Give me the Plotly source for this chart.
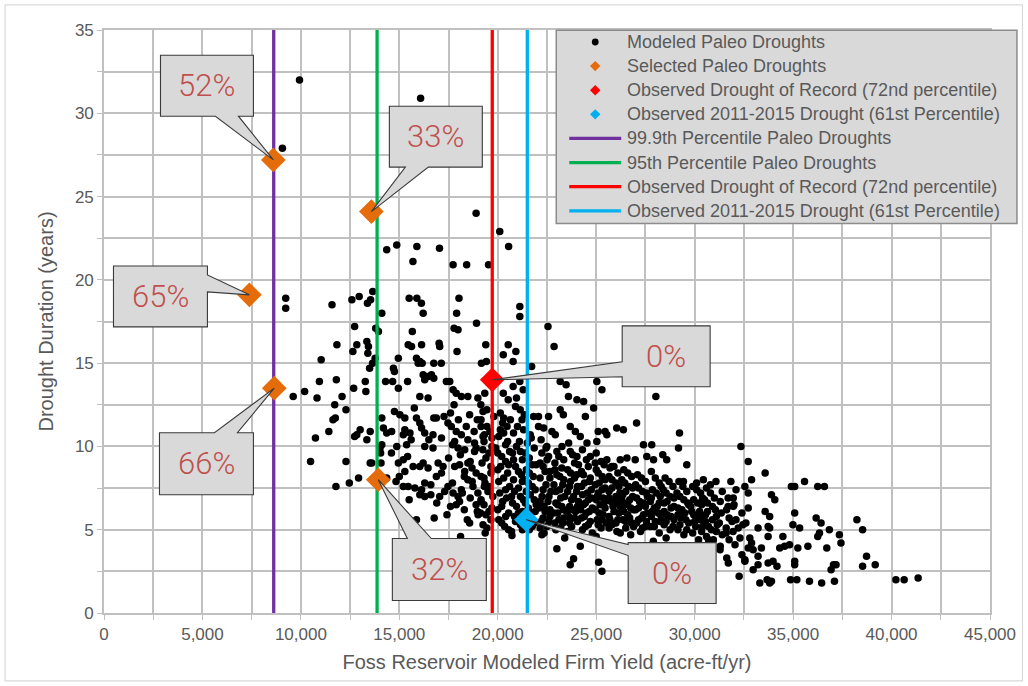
import plotly.graph_objects as go

# ---------------------------------------------------------------------------
# Modeled paleo droughts: (firm yield acre-ft/yr, drought duration years)
# ---------------------------------------------------------------------------
paleo_upper = [
    (9930, 32.0), (16080, 30.9), (9060, 27.9), (18900, 24.0), (20100, 22.9), (14360, 21.8),
    (14870, 22.1), (15890, 22.0), (17040, 21.9), (20550, 22.0), (15690, 21.1), (17730, 20.9),
    (18420, 20.9), (19530, 20.9), (9230, 18.9), (9230, 18.3), (11580, 18.5), (12590, 18.8),
    (12960, 19.0), (13380, 18.6), (13540, 18.8), (13650, 19.3), (14110, 18.0), (15500, 18.9),
    (15890, 18.9), (16120, 18.6), (16210, 18.0), (18030, 18.9), (17910, 18.0), (18920, 17.4),
    (21120, 18.4), (21120, 17.8), (22550, 17.2), (12730, 17.2), (13800, 17.1), (13940, 16.9),
    (15660, 16.9), (17780, 17.1), (17980, 17.0),
]

paleo_middle = [
    (11830, 16.1), (12840, 16.1), (13350, 16.3), (13430, 16.0), (12640, 15.7), (13400, 15.6),
    (15450, 16.1), (15620, 16.0), (16130, 16.1), (17020, 16.2), (17050, 16.0), (17930, 15.7),
    (11030, 15.2), (13770, 15.3), (13640, 15.0), (14950, 15.3), (15870, 15.3), (16040, 15.1),
    (16160, 15.0), (15960, 15.0), (16750, 15.0), (17130, 15.0), (14700, 14.7), (14750, 14.5),
    (13490, 14.7), (19170, 15.0), (19420, 15.1), (16210, 14.3), (16460, 14.2), (16290, 14.0),
    (16630, 14.3), (16750, 14.1), (15420, 13.9), (14300, 13.9), (14660, 13.9), (13270, 13.9),
    (10940, 13.9), (11800, 14.0), (17390, 13.9), (17560, 13.9), (14950, 13.5), (12680, 13.5),
    (13300, 13.3), (10190, 13.3), (9610, 13.0), (10820, 12.9), (12090, 13.0), (16040, 13.0),
    (16460, 12.9), (17730, 13.4), (17890, 13.2), (18150, 13.0), (18480, 13.0), (18990, 12.9),
    (17780, 12.5), (11720, 12.5), (12290, 12.2), (15760, 12.3), (19140, 12.5), (19250, 12.1),
    (19390, 16.1), (20530, 16.1), (20920, 15.7), (20280, 15.5), (20780, 15.1), (21720, 14.8),
    (22860, 16.0), (23170, 13.9), (23470, 13.7), (25030, 13.9), (25290, 13.4), (28030, 13.0),
    (23590, 13.0), (24020, 12.8), (24360, 12.7), (21120, 13.9), (20780, 13.6), (21290, 13.4),
    (20280, 13.2), (20530, 12.8), (20950, 12.9), (19340, 13.2), (24870, 12.3), (23170, 12.2),
]

paleo_central = [
    (18570, 11.9), (17270, 11.8), (16750, 11.7), (16880, 11.7), (11750, 11.7), (11630, 11.6),
    (14110, 11.7), (14750, 12.1), (15030, 11.9), (15280, 11.7), (15870, 11.7), (16040, 11.4),
    (16130, 11.1), (17470, 11.4), (17640, 11.2), (17890, 10.9), (18150, 10.7), (18960, 11.6),
    (19150, 11.2), (19320, 10.7), (14190, 11.1), (14360, 10.8), (14610, 10.9), (13010, 11.0),
    (12840, 10.7), (11420, 10.9), (13520, 10.9), (15280, 11.0), (15540, 10.8), (15200, 10.7),
    (16290, 10.8), (16710, 10.7), (10740, 10.5), (12730, 10.6), (13350, 10.4), (17140, 10.5),
    (17810, 10.3), (18480, 10.4), (18820, 10.2), (14110, 10.1), (14020, 9.9), (14870, 10.0),
    (15370, 10.1), (16290, 10.0), (16710, 9.9), (17980, 9.9), (18320, 9.8), (18820, 9.7),
    (19240, 9.8), (10490, 9.1), (12290, 9.1), (13520, 9.0), (14070, 9.0), (14950, 9.0),
    (15200, 9.2), (15420, 9.4), (15280, 8.5), (16040, 8.8), (16210, 9.0), (16460, 8.7),
    (16970, 9.0), (17220, 8.8), (17140, 8.4), (16880, 8.2), (17810, 8.8), (18060, 8.9),
    (18320, 8.5), (18480, 9.0), (18690, 8.7), (18900, 8.4), (19150, 8.2), (12930, 8.1),
    (12460, 7.8), (11780, 7.6), (14830, 7.9), (14360, 8.1), (15200, 7.6), (15450, 7.6),
    (15790, 7.5), (16130, 7.4), (16290, 7.8), (16040, 7.1), (16290, 7.0), (16600, 7.1),
    (17050, 7.0), (17470, 7.6), (17730, 7.2), (17980, 7.0), (18150, 7.4), (18480, 8.0),
    (18740, 7.6), (18990, 7.2), (19320, 7.6), (19150, 6.8), (17890, 6.5), (18060, 6.7),
    (15870, 5.6), (16770, 5.7), (17420, 5.9), (18450, 5.6), (18570, 5.4), (18960, 6.1),
    (19120, 6.0), (18110, 4.6), (19360, 4.8), (17600, 12.0), (18000, 11.6), (18400, 11.2),
    (18800, 10.9), (17700, 10.1), (18100, 9.5), (18600, 9.1), (18900, 9.9), (17500, 9.3),
    (18300, 8.2), (18700, 7.9), (17700, 7.8), (18200, 7.2), (18600, 6.9), (18900, 6.5),
    (17600, 6.4), (19000, 5.9), (18300, 6.2), (14600, 9.6), (15600, 10.4), (16500, 10.4),
    (15000, 8.2), (15700, 8.8), (16600, 7.7), (17300, 7.3), (16900, 6.6), (15500, 6.8),
    (13600, 9.0), (14050, 9.6),
]

paleo_east = [
    (22070, 11.8), (22580, 11.8), (23330, 11.9), (24450, 11.8), (27050, 11.4), (26040, 11.1),
    (26380, 11.0), (29230, 10.8), (25100, 10.9), (25450, 10.9), (25030, 10.3), (25540, 10.7),
    (23680, 11.2), (23940, 10.9), (24190, 10.6), (24530, 10.2), (22750, 10.9), (22920, 10.7),
    (22330, 11.1), (20130, 12.0), (20300, 11.7), (20640, 11.6), (20470, 11.2), (20130, 11.0),
    (21140, 12.2), (21230, 11.6), (21310, 11.0), (21820, 11.8), (22070, 11.2), (21650, 10.7),
    (27400, 10.1), (27820, 10.1), (29180, 9.9), (28380, 9.5), (29600, 8.9), (29430, 7.9),
    (28580, 9.2), (27570, 9.4), (27910, 9.2), (26980, 9.2), (26220, 9.2), (26560, 9.3),
    (25540, 9.2), (25790, 8.8), (24700, 9.4), (24950, 9.0), (23680, 9.7), (24020, 9.4),
    (23000, 9.7), (23260, 10.0), (22490, 10.0), (22240, 9.6), (22580, 9.4), (19800, 11.8),
    (20250, 11.4), (19450, 12.2), (20900, 12.4), (21350, 11.9), (19700, 10.5),
]

paleo_band = [
    (19150, 11.6), (19600, 10.9), (19300, 10.3), (19550, 9.6), (19200, 9.0), (19650, 8.4),
    (19350, 7.8), (19500, 7.3), (19150, 6.7), (19700, 6.3), (19400, 5.9), (19250, 5.3),
    (20050, 10.6), (20400, 10.1), (20200, 9.4), (20550, 8.9), (20000, 8.6), (20300, 8.1),
    (20600, 7.6), (20100, 7.2), (20450, 6.9), (20200, 6.4), (20550, 6.0), (20050, 5.6),
    (20350, 5.2), (19900, 9.9), (20600, 9.7), (20800, 10.8), (21100, 10.3), (20750, 9.6),
    (21250, 9.2), (20900, 8.8), (21200, 8.3), (20800, 8.0), (21050, 7.5), (20700, 7.0),
    (21300, 6.8), (20950, 6.4), (21250, 6.1), (20850, 5.8), (21150, 5.3), (20700, 4.9),
    (21500, 10.2), (21850, 9.9), (21600, 9.3), (21950, 8.9), (21450, 8.6), (21800, 8.2),
    (21550, 7.8), (21900, 7.4), (21650, 7.1), (21400, 6.6), (21950, 6.5), (21700, 6.0),
    (21500, 5.7), (21850, 5.4), (21600, 5.0), (22200, 10.4), (22500, 9.2), (22300, 8.8),
    (22650, 8.5), (22150, 8.1), (22450, 7.7), (22700, 7.3), (22250, 7.0), (22550, 6.7),
    (22100, 6.3), (22400, 6.1), (22650, 5.8), (22200, 5.5), (22500, 5.2), (22350, 4.8),
    (22900, 9.0), (23250, 8.7), (23000, 8.3), (23350, 8.0), (22850, 7.7), (23150, 7.4),
    (23400, 7.0), (22950, 6.6), (23250, 6.4), (23050, 6.0), (23350, 5.7), (22900, 5.4),
    (23200, 5.1), (23400, 4.5), (23600, 10.2), (23900, 9.0), (23550, 8.6), (24000, 8.3),
    (23700, 7.9), (24050, 7.6), (23550, 7.3), (23850, 7.0), (24100, 6.7), (23650, 6.4),
    (23950, 6.1), (23600, 5.8), (24050, 5.5), (23750, 5.2), (23550, 4.9), (24300, 9.8),
    (24600, 8.8), (24250, 8.5), (24700, 8.1), (24400, 7.8), (24750, 7.4), (24300, 7.1),
    (24600, 6.8), (24350, 6.5), (24800, 6.3), (24500, 6.0), (24250, 5.7), (24700, 5.5),
    (24450, 5.2), (24800, 4.8), (25000, 9.6), (25400, 8.9), (25100, 8.4), (25450, 8.0),
    (24950, 7.7), (25300, 7.4), (25050, 7.0), (25450, 6.7), (25200, 6.5), (24950, 6.2),
    (25350, 5.9), (25050, 5.6), (25500, 5.4), (25250, 5.1), (25000, 4.6), (25700, 8.7),
    (26100, 8.4), (25800, 8.0), (26150, 7.6), (25650, 7.3), (26000, 7.0), (25750, 6.7),
    (26200, 6.4), (25900, 6.1), (25650, 5.8), (26100, 5.6), (25800, 5.3), (26050, 4.9),
    (26400, 8.6), (26800, 8.2), (26450, 7.8), (26850, 7.5), (26350, 7.1), (26700, 6.8),
    (26450, 6.5), (26900, 6.2), (26600, 5.9), (26350, 5.6), (26800, 5.4), (26500, 5.1),
    (26750, 4.7), (27100, 8.3), (27500, 7.9), (27150, 7.5), (27550, 7.2), (27050, 6.9),
    (27400, 6.6), (27150, 6.3), (27600, 6.0), (27300, 5.7), (27050, 5.4), (27500, 5.2),
    (27250, 4.9), (27800, 8.5), (28200, 7.8), (27850, 7.4), (28250, 7.0), (27750, 6.7),
    (28100, 6.4), (27850, 6.1), (28300, 5.8), (28000, 5.5), (27750, 5.2), (28200, 4.8),
    (28500, 8.1), (28900, 7.6), (28550, 7.2), (28950, 6.9), (28450, 6.6), (28800, 6.3),
    (28600, 5.9), (28950, 5.6), (28450, 5.3), (28750, 5.0), (28550, 4.5), (29200, 7.9),
    (29600, 7.3), (29250, 7.0), (29650, 6.6), (29150, 6.3), (29500, 6.0), (29300, 5.7),
    (29700, 5.4), (29150, 5.0), (29450, 4.7), (29900, 7.6), (30300, 7.2), (29950, 6.8),
    (30350, 6.5), (29850, 6.1), (30200, 5.8), (30000, 5.5), (30400, 5.2), (29900, 4.8),
    (30200, 4.4), (30600, 7.5), (31000, 6.9), (30650, 6.6), (31050, 6.2), (30550, 5.9),
    (30900, 5.6), (30700, 5.2), (31100, 4.9), (30600, 4.6), (30900, 4.2), (31300, 6.7),
    (31700, 6.4), (31350, 6.0), (31750, 5.7), (31250, 5.4), (31600, 5.1), (31400, 4.7),
    (31750, 4.4), (31300, 4.0), (32000, 6.5), (32400, 6.0), (32100, 5.6), (32450, 5.3),
    (31950, 4.9), (32300, 4.5), (32050, 4.1), (32400, 3.5), (31400, 7.3), (30800, 7.7),
    (31700, 6.9), (31900, 5.5), (31600, 4.8),
]

paleo_band_dense = [
    (19450, 11.2), (19250, 10.6), (19700, 10.0), (19400, 9.3), (19650, 8.8), (19300, 8.1),
    (19550, 7.6), (19750, 7.0), (19300, 6.5), (19550, 6.1), (19650, 5.6), (19450, 5.1),
    (20300, 10.8), (20500, 10.3), (20000, 9.6), (20400, 9.1), (20150, 8.8), (20500, 8.4),
    (20050, 7.9), (20400, 7.4), (20250, 6.7), (20000, 6.2), (20400, 5.8), (20200, 5.4),
    (20550, 5.0), (21000, 11.2), (20950, 10.0), (21150, 9.7), (20800, 9.2), (21050, 8.5),
    (21250, 7.9), (20850, 7.3), (21150, 7.0), (20750, 6.6), (21050, 6.0), (20900, 5.5),
    (21250, 5.0), (21700, 10.5), (21400, 9.6), (21750, 8.9), (21600, 8.4), (21400, 8.0),
    (21750, 7.6), (21450, 7.3), (21850, 6.8), (21550, 6.3), (21900, 6.1), (21400, 5.4),
    (21750, 5.2), (22450, 9.9), (22150, 9.0), (22400, 8.5), (22650, 8.1), (22300, 7.4),
    (22600, 7.0), (22150, 6.7), (22350, 6.4), (22650, 6.2), (22300, 5.7), (22600, 5.5),
    (22150, 5.1), (23100, 9.4), (23350, 9.2), (22900, 8.6), (23150, 8.2), (23300, 7.7),
    (22950, 7.3), (23200, 6.9), (23050, 6.5), (23350, 6.2), (22850, 6.0), (23100, 5.6),
    (23300, 5.4), (22950, 5.0), (23800, 9.5), (24100, 8.9), (23700, 8.4), (23900, 8.1),
    (23650, 7.6), (24000, 7.3), (23750, 6.8), (24050, 6.4), (23800, 6.2), (23500, 6.1),
    (23900, 5.7), (23650, 5.4), (24500, 9.2), (24350, 8.3), (24650, 7.9), (24250, 7.6),
    (24550, 7.2), (24750, 6.9), (24450, 6.6), (24200, 6.2), (24650, 6.1), (24400, 5.8),
    (24600, 5.3), (24300, 5.0), (25250, 9.1), (25000, 8.6), (25300, 8.2), (25150, 7.8),
    (25450, 7.5), (25100, 7.2), (25350, 6.9), (25000, 6.8), (25450, 6.3), (25150, 6.0),
    (25300, 5.6), (25100, 5.3), (25900, 8.8), (25650, 8.2), (26000, 7.8), (25800, 7.5),
    (26200, 7.2), (25650, 6.9), (26050, 6.6), (25850, 6.4), (26150, 6.0), (25700, 5.6),
    (26000, 5.4), (25650, 5.1), (26600, 8.4), (26300, 8.0), (26650, 7.6), (26500, 7.3),
    (26850, 7.0), (26300, 6.8), (26600, 6.6), (26750, 6.3), (26400, 6.1), (26700, 5.7),
    (26500, 5.5), (26900, 5.2), (27300, 8.1), (27000, 7.7), (27350, 7.3), (27600, 7.0),
    (27200, 6.7), (27500, 6.4), (27000, 6.2), (27400, 5.9), (27150, 5.6), (27550, 5.5),
    (27350, 5.1), (28000, 8.1), (28300, 7.6), (28050, 7.2), (27800, 6.9), (28200, 6.6),
    (27950, 6.3), (28150, 6.0), (27800, 5.8), (28250, 5.5), (27950, 5.2), (28700, 7.9),
    (28400, 7.4), (28750, 7.0), (28600, 6.7), (28950, 6.4), (28450, 6.1), (28800, 5.8),
    (28550, 5.5), (28900, 5.2), (29400, 7.6), (29100, 7.2), (29450, 6.8), (29700, 6.5),
    (29350, 6.2), (29150, 5.9), (29550, 5.6), (29250, 5.3), (29600, 5.0), (30100, 7.4),
    (30400, 6.9), (30150, 6.6), (29800, 6.4), (30250, 6.1), (29950, 5.9), (30300, 5.6),
    (30050, 5.2), (30350, 4.9), (30800, 7.2), (30500, 6.8), (30900, 6.4), (30650, 6.1),
    (31100, 5.8), (30550, 5.5), (30850, 5.0), (31150, 5.3), (30700, 4.4),
]

paleo_tail = [
    (32350, 10.0), (32720, 9.1), (33580, 8.4), (35580, 7.9), (34910, 7.6), (35080, 7.6),
    (36250, 7.6), (36590, 7.6), (32890, 8.0), (32550, 7.6), (32720, 7.2), (31840, 7.9),
    (32100, 7.4), (31960, 6.9), (31080, 7.9), (30440, 8.0), (30100, 7.8), (33900, 7.1),
    (34070, 6.8), (32720, 6.3), (31960, 6.4), (31620, 6.2), (35080, 6.0), (33580, 6.1),
    (33810, 5.8), (36170, 5.7), (36420, 5.4), (38240, 5.6), (38530, 5.0), (34990, 5.3),
    (35330, 5.1), (33730, 5.2), (33810, 5.1), (33220, 5.1), (32600, 5.4), (32210, 5.1),
    (36840, 5.0), (36340, 4.8), (36250, 4.6), (37350, 4.7), (37430, 4.2), (34480, 4.6),
    (33730, 4.6), (32800, 4.5), (32890, 4.2), (32720, 3.9), (32970, 3.8), (33390, 3.9),
    (34320, 3.9), (34570, 4.0), (34820, 4.1), (35240, 3.9), (35750, 4.0), (36710, 3.9),
    (38730, 3.4), (38530, 2.8), (39170, 2.9), (37050, 2.9), (37180, 2.9), (36930, 2.6),
    (35080, 3.1), (35080, 2.9), (34180, 2.8), (33980, 3.1), (33730, 3.0), (33220, 3.4),
    (33220, 2.9), (32970, 2.6), (32550, 3.2), (32550, 3.1), (32260, 2.2), (33310, 1.8),
    (33680, 2.0), (33810, 1.8), (33900, 1.9), (34870, 2.0), (35190, 2.0), (35830, 1.9),
    (36450, 1.8), (37100, 1.9), (40220, 2.0), (40640, 2.0), (41350, 2.1),
]

paleo_low = [
    (23000, 3.85), (23850, 3.25), (23680, 2.9), (24190, 4.0), (25120, 3.05), (25290, 2.5),
    (20720, 4.65), (22240, 4.7), (26220, 4.8), (26560, 3.9), (31290, 3.8), (31630, 3.3),
    (31710, 3.0), (30950, 4.4), (27900, 4.3), (28250, 3.9),
]

# Selected paleo droughts and the two observed droughts
selected_x = [8600, 13580, 7385, 8650, 13930]
selected_y = [27.2, 24.1, 19.1, 13.5, 8.0]
selected_pct = ["52%", "33%", "65%", "66%", "32%"]
record_x, record_y, record_pct = [19720], [14.0], ["0%"]
recent_x, recent_y, recent_pct = [21450], [5.6], ["0%"]

# Percentile reference lines (firm yield, acre-ft/yr)
pct_999 = 8620
pct_95 = 13870
pct_record = 19720
pct_recent = 21500

X_MAX, Y_MAX = 45000, 35

# Plot-area geometry in page pixels
L, R, T, B = 103.5, 990.0, 29.7, 613.5
W, H = R - L, B - T
X_PER_PX = X_MAX / W
Y_PER_PX = Y_MAX / H

GREY_TXT = "#595959"
ORANGE, RED, BLUE = "#e46c0a", "#ff0000", "#00b0f0"
PURPLE, GREEN = "#7030a0", "#00b050"

all_pairs = (paleo_upper + paleo_middle + paleo_central + paleo_east + paleo_band
             + paleo_band_dense + paleo_tail + paleo_low)
px_ = [p[0] for p in all_pairs]
py_ = [p[1] for p in all_pairs]

fig = go.Figure()

fig.add_trace(go.Scatter(x=px_, y=py_, mode="markers", name="Modeled Paleo Droughts",
                         marker=dict(color="black", size=7.5, line=dict(width=0)),
                         showlegend=False, hoverinfo="skip"))

for xv, col, nm in [(pct_999, PURPLE, "99.9th Percentile Paleo Droughts"),
                    (pct_95, GREEN, "95th Percentile Paleo Droughts"),
                    (pct_record, RED, "Observed Drought of Record (72nd percentile)"),
                    (pct_recent, BLUE, "Observed 2011-2015 Drought (61st Percentile)")]:
    fig.add_trace(go.Scatter(x=[xv, xv], y=[0, Y_MAX], mode="lines", name=nm,
                             line=dict(color=col, width=3.3), showlegend=False))

for xs, ys, col, nm in [(selected_x, selected_y, ORANGE, "Selected Paleo Droughts"),
                        (record_x, record_y, RED, "Observed Drought of Record"),
                        (recent_x, recent_y, BLUE, "Observed 2011-2015 Drought")]:
    fig.add_trace(go.Scatter(x=xs, y=ys, mode="markers", name=nm,
                             marker=dict(symbol="diamond", color=col, size=19, line=dict(width=0)),
                             showlegend=False))

# ---------------------------------------------------------------------------
# Callout boxes: (box offsets from tip in px, pointer base offsets, edge)
# ---------------------------------------------------------------------------
callout_geom = [
    ((-112.9, -104.8, -19.9, -43.8), ((-57.9, -43.8), (-34.9, -43.8)), "bottom"),
    ((18.0, -105.5, 111.0, -44.5), ((34.0, -44.5), (57.0, -44.5)), "bottom"),
    ((-136.0, -28.9, -42.0, 32.1), ((-42.0, -19.9), (-42.0, -2.9)), "right"),
    ((-114.9, 44.7, -20.9, 106.7), ((-59.9, 44.7), (-36.9, 44.7)), "top"),
    ((14.1, 58.9, 108.1, 120.9), ((29.1, 58.9), (53.1, 58.9)), "top"),
    ((130.0, -54.0, 218.0, 7.0), ((130.0, -18.0), (130.0, -3.0)), "left"),
    ((101.9, 22.9, 189.9, 83.9), ((101.9, 24.9), (101.9, 35.9)), "left"),
]

tips = list(zip(selected_x + record_x + recent_x,
                selected_y + record_y + recent_y,
                selected_pct + record_pct + recent_pct))


def data_pt(tx, ty, dx, dy):
    return tx + dx * X_PER_PX, ty - dy * Y_PER_PX


def callout_path(tx, ty, box, base, edge):
    x0, y0, x1, y1 = box
    b1, b2 = base
    tl, tr, br, bl = (x0, y0), (x1, y0), (x1, y1), (x0, y1)
    tip = (0.0, 0.0)
    if edge == "bottom":
        seq = [tl, tr, br, b2, tip, b1, bl]
    elif edge == "top":
        seq = [tl, b1, tip, b2, tr, br, bl]
    elif edge == "left":
        seq = [tl, tr, br, bl, b2, tip, b1]
    else:
        seq = [tl, tr, b1, tip, b2, br, bl]
    pts = [data_pt(tx, ty, dx, dy) for dx, dy in seq]
    return "M " + " L ".join(f"{x:.2f},{y:.4f}" for x, y in pts) + " Z"


shapes = []
annotations = []
for (tx, ty, label), (box, base, edge) in zip(tips, callout_geom):
    shapes.append(dict(type="path", xref="x", yref="y", layer="above",
                       path=callout_path(tx, ty, box, base, edge),
                       fillcolor="#d9d9d9", line=dict(color="#3a3a3a", width=1.1)))
    cx, cy = data_pt(tx, ty, (box[0] + box[2]) / 2, (box[1] + box[3]) / 2)
    annotations.append(dict(x=cx, y=cy, xref="x", yref="y", text=label, showarrow=False,
                            xanchor="center", yanchor="middle",
                            font=dict(family="Roboto, sans-serif", weight=300,
                                      size=31, color="#c0504d")))


# ---------------------------------------------------------------------------
# Legend panel drawn in paper coordinates
# ---------------------------------------------------------------------------
def pxx(v):
    return (v - L) / W


def pxy(v):
    return (B - v) / H


legend_items = [
    ("dot", "black", "Modeled Paleo Droughts"),
    ("diamond", ORANGE, "Selected Paleo Droughts"),
    ("diamond", RED, "Observed Drought of Record (72nd percentile)"),
    ("diamond", BLUE, "Observed 2011-2015 Drought (61st Percentile)"),
    ("line", PURPLE, "99.9th Percentile Paleo Droughts"),
    ("line", GREEN, "95th Percentile Paleo Droughts"),
    ("line", RED, "Observed Drought of Record (72nd percentile)"),
    ("line", BLUE, "Observed 2011-2015 Drought (61st Percentile)"),
]

LEG_X0, LEG_X1, LEG_Y0, LEG_Y1 = 556, 1017, 30, 223.5
shapes.append(dict(type="rect", xref="paper", yref="paper", layer="above",
                   x0=pxx(LEG_X0), x1=pxx(LEG_X1), y0=pxy(LEG_Y1), y1=pxy(LEG_Y0),
                   fillcolor="#d9d9d9", line=dict(color="#8c8c8c", width=1.5)))

row0, row_step = 41.7, 24.15
sym_cx, line_x0, line_x1, text_x = 595, 569, 621, 625
for i, (kind, col, txt) in enumerate(legend_items):
    ry = row0 + i * row_step
    if kind == "dot":
        r = 3.4
        shapes.append(dict(type="circle", xref="paper", yref="paper", layer="above",
                           x0=pxx(sym_cx - r), x1=pxx(sym_cx + r),
                           y0=pxy(ry + r), y1=pxy(ry - r),
                           fillcolor=col, line=dict(width=0)))
    elif kind == "diamond":
        h = 5.2
        path = (f"M {pxx(sym_cx)},{pxy(ry - h)} L {pxx(sym_cx + h)},{pxy(ry)} "
                f"L {pxx(sym_cx)},{pxy(ry + h)} L {pxx(sym_cx - h)},{pxy(ry)} Z")
        shapes.append(dict(type="path", xref="paper", yref="paper", layer="above",
                           path=path, fillcolor=col, line=dict(width=0)))
    else:
        shapes.append(dict(type="line", xref="paper", yref="paper", layer="above",
                           x0=pxx(line_x0), x1=pxx(line_x1), y0=pxy(ry), y1=pxy(ry),
                           line=dict(color=col, width=3.3)))
    annotations.append(dict(x=pxx(text_x), y=pxy(ry), xref="paper", yref="paper",
                            text=txt, showarrow=False, xanchor="left", yanchor="middle",
                            font=dict(family="Liberation Sans, Arial, sans-serif",
                                      size=18, color=GREY_TXT)))

# Chart-area border
shapes.append(dict(type="rect", xref="paper", yref="paper", layer="below",
                   x0=pxx(4.5), x1=pxx(1022.5), y0=pxy(681.5), y1=pxy(4.5),
                   line=dict(color="#d9d9d9", width=1.2), fillcolor="rgba(0,0,0,0)"))

grid_col = "#c0c0c0"
axis_font = dict(family="Liberation Sans, Arial, sans-serif", size=17, color=GREY_TXT)
title_font = dict(family="Liberation Sans, Arial, sans-serif", size=20, color=GREY_TXT)

fig.update_layout(
    width=1028, height=686,
    margin=dict(l=L, r=1028 - R, t=T, b=686 - B, pad=0),
    paper_bgcolor="white", plot_bgcolor="white",
    showlegend=False,
    shapes=shapes, annotations=annotations,
    font=dict(family="Liberation Sans, Arial, sans-serif", color=GREY_TXT),
    xaxis=dict(range=[0, X_MAX], tick0=0, dtick=5000, tickformat=",d",
               showgrid=True, gridcolor=grid_col, gridwidth=1.6,
               minor=dict(dtick=2500, showgrid=True, gridcolor=grid_col, gridwidth=1.6,
                          ticks="outside", ticklen=5, tickcolor=grid_col),
               ticks="outside", ticklen=5, tickcolor=grid_col,
               showline=True, linecolor=grid_col, linewidth=1.6, mirror=True,
               zeroline=False, tickfont=axis_font,
               title=dict(text="Foss Reservoir Modeled Firm Yield (acre-ft/yr)",
                          font=title_font, standoff=12)),
    yaxis=dict(range=[0, Y_MAX], tick0=0, dtick=5,
               showgrid=True, gridcolor=grid_col, gridwidth=1.6,
               minor=dict(dtick=2.5, showgrid=True, gridcolor=grid_col, gridwidth=1.6,
                          ticks="outside", ticklen=5, tickcolor=grid_col),
               ticks="outside", ticklen=5, tickcolor=grid_col,
               showline=True, linecolor=grid_col, linewidth=1.6, mirror=True,
               zeroline=False, tickfont=axis_font,
               title=dict(text="Drought Duration (years)", font=title_font, standoff=16)),
)

fig.write_html("out.html")
